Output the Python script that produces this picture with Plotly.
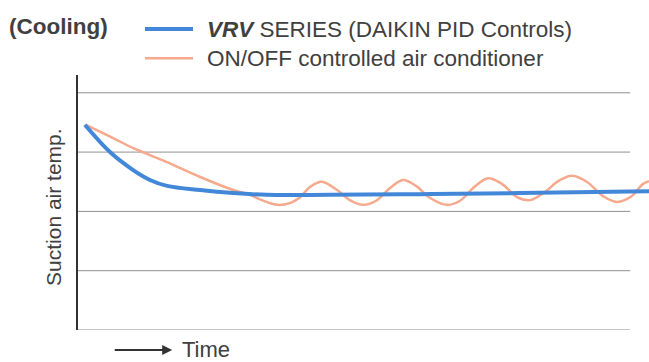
import plotly.graph_objects as go

# Time axis (arbitrary units) and suction air temperature (arbitrary units)
vrv_time = [1.2, 5.6, 9.6, 12.6, 15.6, 21.4, 27.2, 33.1, 44.1, 59.9, 77.4, 100]
vrv_temp = [3.46, 3.00, 2.70, 2.53, 2.43, 2.36, 2.31, 2.28, 2.28, 2.29, 2.31, 2.34]

onoff_time = [1.4, 3.3, 6.5, 9.6, 12.6, 15.6, 21.4, 27.2, 30.1, 32.2, 34.9, 37.1,
              38.9, 40.6, 42.7, 45.4, 47.6, 49.9, 52.2, 54.6, 56.9, 59.2, 61.6,
              64.6, 66.9, 69.4, 71.8, 74.3, 76.9, 79.2, 81.8, 84.1, 86.5, 89.1,
              91.9, 94.4, 97.0, 98.9, 100]
onoff_temp = [3.46, 3.37, 3.22, 3.07, 2.95, 2.83, 2.58, 2.36, 2.28, 2.19, 2.11, 2.14,
              2.24, 2.41, 2.50, 2.36, 2.19, 2.11, 2.18, 2.39, 2.53, 2.43, 2.23,
              2.11, 2.18, 2.41, 2.56, 2.46, 2.24, 2.19, 2.33, 2.51, 2.60, 2.50,
              2.26, 2.16, 2.26, 2.46, 2.51]

grid_levels = [0, 1, 2, 3, 4]

series_names = ["<b><i>VRV</i></b> SERIES (DAIKIN PID Controls)",
                "ON/OFF controlled air conditioner"]

BLUE = "#4388d8"
ORANGE = "#f6a98c"
TEXT = "#404040"
FONT = "Liberation Sans, Arial, sans-serif"

fig = go.Figure()

fig.add_trace(go.Scatter(
    x=onoff_time, y=onoff_temp, mode="lines",
    line=dict(color=ORANGE, width=2.5, shape="spline", smoothing=1.0),
    name=series_names[1], showlegend=False, hoverinfo="skip",
))
fig.add_trace(go.Scatter(
    x=vrv_time, y=vrv_temp, mode="lines",
    line=dict(color=BLUE, width=4, shape="spline", smoothing=1.0),
    name=series_names[0], showlegend=False, hoverinfo="skip",
))

# horizontal guide lines, stopping short of the right edge
shapes = []
for lv in grid_levels:
    shapes.append(dict(type="line", xref="paper", yref="y", x0=0, x1=0.967,
                       y0=lv, y1=lv, line=dict(color="#8f8f8f", width=1),
                       layer="below"))

# legend samples
legend_rows = [(1.18, BLUE, 4), (1.066, ORANGE, 2.5)]
for ypos, col, w in legend_rows:
    shapes.append(dict(type="line", xref="paper", yref="paper",
                       x0=0.1173, x1=0.2014, y0=ypos, y1=ypos,
                       line=dict(color=col, width=w)))

annotations = [
    dict(text="<b>(Cooling)</b>", xref="paper", yref="paper", x=-0.124, y=1.19,
         xanchor="left", yanchor="middle", showarrow=False,
         font=dict(size=22.5, color=TEXT, family=FONT)),
    dict(text=series_names[0], xref="paper", yref="paper", x=0.222, y=1.18,
         xanchor="left", yanchor="middle", showarrow=False,
         font=dict(size=22.5, color=TEXT, family=FONT)),
    dict(text=series_names[1], xref="paper", yref="paper", x=0.222, y=1.066,
         xanchor="left", yanchor="middle", showarrow=False,
         font=dict(size=22.5, color=TEXT, family=FONT)),
    dict(text="Suction air temp.", xref="paper", yref="paper", x=-0.044, y=0.482,
         xanchor="center", yanchor="middle", textangle=-90, showarrow=False,
         font=dict(size=21, color=TEXT, family=FONT)),
    dict(text="Time", xref="paper", yref="paper", x=0.1786, y=-0.078,
         xanchor="left", yanchor="middle", showarrow=False,
         font=dict(size=22, color=TEXT, family=FONT)),
    dict(text="", xref="paper", yref="paper", x=0.165, y=-0.078,
         ax=-59, ay=0, showarrow=True, arrowhead=2, arrowsize=1,
         arrowwidth=2, arrowcolor="#333333"),
]

fig.update_layout(
    width=649, height=362,
    margin=dict(l=78, r=0, t=75, b=32),
    paper_bgcolor="white", plot_bgcolor="white",
    shapes=shapes, annotations=annotations,
    xaxis=dict(range=[0, 100], showgrid=False, zeroline=False,
               showticklabels=False, ticks="", showline=False),
    yaxis=dict(range=[0, 4.3], showgrid=False, zeroline=False,
               showticklabels=False, ticks="", showline=True,
               linecolor="#333333", linewidth=1.5),
)

fig.write_html("out.html")
